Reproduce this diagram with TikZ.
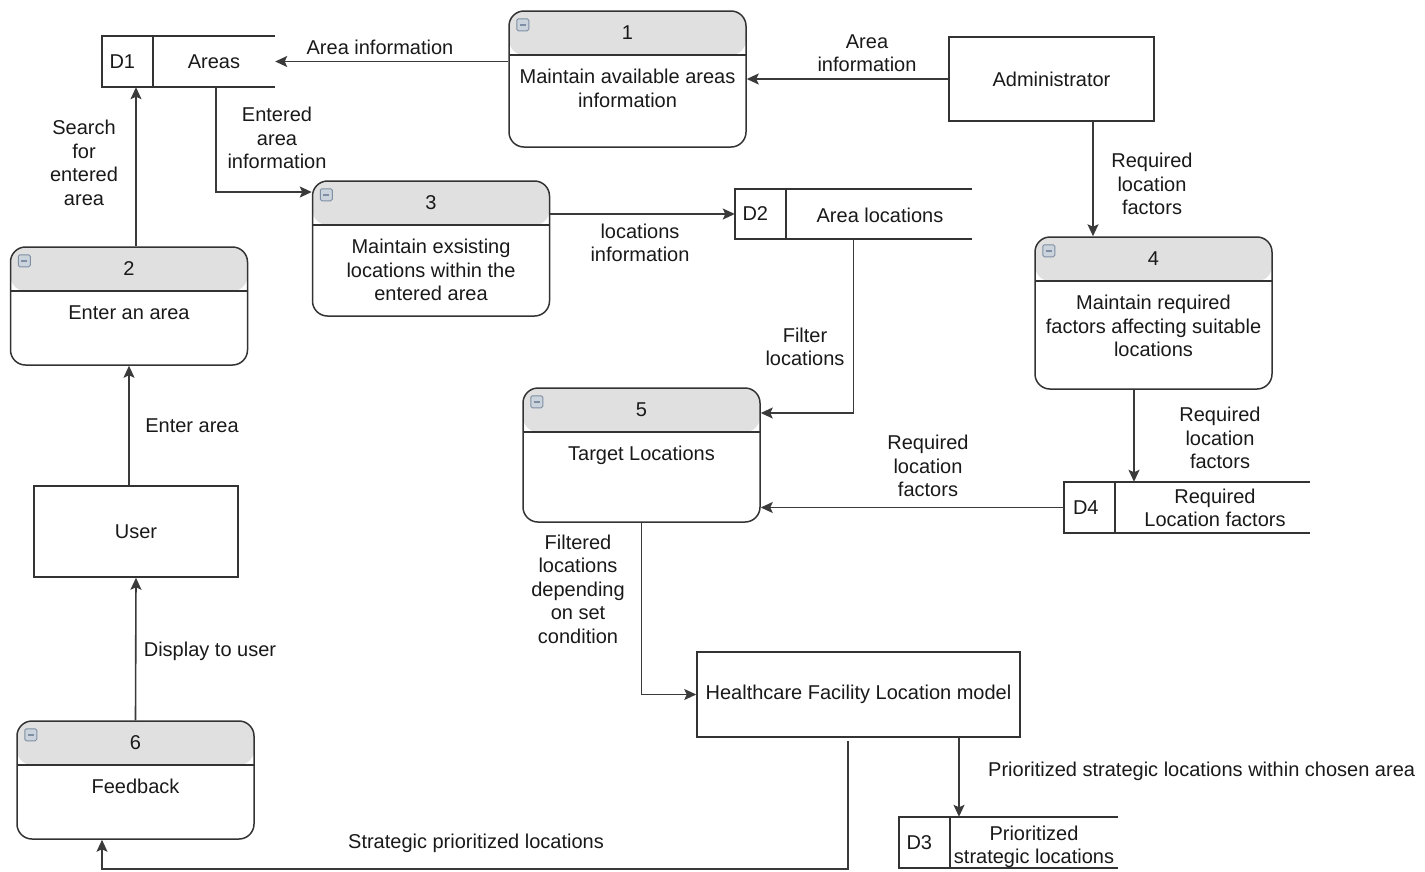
\documentclass[tikz,border=0pt]{standalone}
\usepackage{fontspec}
\setmainfont{Liberation Sans}
\usetikzlibrary{arrows.meta}
\definecolor{linec}{HTML}{333333}
\definecolor{flowc}{HTML}{3A3A3A}
\definecolor{headc}{HTML}{E0E0E0}
\definecolor{iconb}{HTML}{7F8FA3}
\definecolor{iconf}{HTML}{CBD3DD}
\begin{document}
\begin{tikzpicture}[x=1pt,y=-1pt,
  every node/.style={font=\fontsize{20}{23.5}\selectfont, text=black!90, inner sep=0pt, align=center},
  flow/.style={draw=flowc, line width=1.6pt, -{Stealth[length=12pt,width=11pt,inset=2.5pt]}},
  proc/.style={draw=linec, line width=1.5pt, rounded corners=15pt, minimum width=237pt, minimum height=#1,
    path picture={
      \fill[headc] (path picture bounding box.north west) rectangle ([yshift=-44pt]path picture bounding box.north east);
      \draw[linec, line width=1.5pt] ([yshift=-44pt]path picture bounding box.north west) -- ([yshift=-44pt]path picture bounding box.north east);
    }},
  icon/.style={draw=iconb, fill=iconf, line width=1pt, rounded corners=1.5pt, minimum size=12pt,
    path picture={\draw[iconb, line width=1.5pt] ([xshift=3pt]path picture bounding box.west) -- ([xshift=-3pt]path picture bounding box.east);}},
  entity/.style={draw=linec, line width=1.5pt},
  storebox/.style={minimum height=51pt},
  storeline/.style={draw=linec, line width=1.5pt},
]
\useasboundingbox (0,0) rectangle (1425,871);

% ---------- processes ----------
\node[proc=136pt] (p1) at (627.5,79) {};
\node[icon] (p1ico) at ([xshift=14.5pt,yshift=-14.5pt]p1.north west) {};
\node (p1num) at ([yshift=-22pt]p1.north) {1};
\node[anchor=north] (p1txt) at ([yshift=-59pt]p1.north) {Maintain available areas\\information};

\node[proc=135pt] (p3) at (431,248.5) {};
\node[icon] (p3ico) at ([xshift=14.5pt,yshift=-14.5pt]p3.north west) {};
\node (p3num) at ([yshift=-22pt]p3.north) {3};
\node[anchor=north] (p3txt) at ([yshift=-59pt]p3.north) {Maintain exsisting\\locations within the\\entered area};

\node[proc=118pt] (p2) at (129,306) {};
\node[icon] (p2ico) at ([xshift=14.5pt,yshift=-14.5pt]p2.north west) {};
\node (p2num) at ([yshift=-22pt]p2.north) {2};
\node[anchor=north] (p2txt) at ([yshift=-59pt]p2.north) {Enter an area};

\node[proc=152pt] (p4) at (1153.5,313) {};
\node[icon] (p4ico) at ([xshift=14.5pt,yshift=-14.5pt]p4.north west) {};
\node (p4num) at ([yshift=-22pt]p4.north) {4};
\node[anchor=north] (p4txt) at ([yshift=-59pt]p4.north) {Maintain required\\factors affecting suitable\\locations};

\node[proc=134pt] (p5) at (641.5,455) {};
\node[icon] (p5ico) at ([xshift=14.5pt,yshift=-14.5pt]p5.north west) {};
\node (p5num) at ([yshift=-22pt]p5.north) {5};
\node[anchor=north] (p5txt) at ([yshift=-59pt]p5.north) {Target Locations};

\node[proc=118pt] (p6) at (135.5,780) {};
\node[icon] (p6ico) at ([xshift=14.5pt,yshift=-14.5pt]p6.north west) {};
\node (p6num) at ([yshift=-22pt]p6.north) {6};
\node[anchor=north] (p6txt) at ([yshift=-59pt]p6.north) {Feedback};

% ---------- entities ----------
\node[entity, minimum width=205pt, minimum height=84pt] (adm) at (1051.5,79) {Administrator};
\node[entity, minimum width=204pt, minimum height=91pt] (user) at (136,531.5) {User};
\node[entity, minimum width=323pt, minimum height=85pt] (hfl) at (858.5,694.5) {Healthcare Facility Location model};

% ---------- data stores ----------
\node[storebox, minimum width=173pt] (d1) at (188.5,61.5) {};
\draw[storeline] (d1.north east) -- (d1.north west) -- (d1.south west) -- (d1.south east);
\draw[storeline] ([xshift=51pt]d1.north west) -- ([xshift=51pt]d1.south west);
\node (d1id) at ([xshift=20.5pt]d1.west) {D1};
\node (d1n) at (214,62) {Areas};

\node[storebox, minimum width=237pt, minimum height=50pt] (d2) at (853.5,214) {};
\draw[storeline] (d2.north east) -- (d2.north west) -- (d2.south west) -- (d2.south east);
\draw[storeline] ([xshift=51pt]d2.north west) -- ([xshift=51pt]d2.south west);
\node (d2id) at ([xshift=20.5pt]d2.west) {D2};
\node (d2n) at (880,215) {Area locations};

\node[storebox, minimum width=246pt] (d4) at (1187,507.5) {};
\draw[storeline] (d4.north east) -- (d4.north west) -- (d4.south west) -- (d4.south east);
\draw[storeline] ([xshift=51pt]d4.north west) -- ([xshift=51pt]d4.south west);
\node (d4id) at ([xshift=22pt]d4.west) {D4};
\node (d4n) at (1215,508) {Required\\Location factors};

\node[storebox, minimum width=219pt] (d3) at (1008.5,842.5) {};
\draw[storeline] (d3.north east) -- (d3.north west) -- (d3.south west) -- (d3.south east);
\draw[storeline] ([xshift=51pt]d3.north west) -- ([xshift=51pt]d3.south west);
\node (d3id) at ([xshift=20.5pt]d3.west) {D3};
\node (d3n) at (1034,847) {Prioritized\\strategic locations};

% ---------- connectors ----------
\draw[flow] (p1.west |- d1.east) -- (d1.east);
\node (l1) at (380,47) {Area information};

\draw[flow] (adm.west) -- (adm.west -| p1.east);
\node (l2) at (867,53) {Area\\information};

\coordinate (a3) at ([xshift=41.5pt]adm.south);
\draw[flow] (a3) -- (a3 |- p4.north);
\node (l3) at (1152,184) {Required\\location\\factors};

\coordinate (a4) at ([xshift=-19.5pt]p4.south);
\draw[flow] (a4) -- (a4 |- d4.north);
\node (l4) at (1220,438) {Required\\location\\factors};

\draw[flow] (d4.west) -- (d4.west -| p5.east);
\node (l5) at (928,466) {Required\\location\\factors};

\coordinate (a6) at ([yshift=42pt]p5.east);
\draw[flow] (d2.south) |- (a6);
\node (l6) at (805,347) {Filter\\locations};

\draw[flow] (d2.west -| p3.east) -- (d2.west);
\node (l7) at (640,243) {locations\\information};

\coordinate (a8s) at ([xshift=27.5pt]d1.south);
\coordinate (a8e) at ([yshift=56.5pt]p3.west);
\draw[flow] (a8s) |- (a8e);
\node (l8) at (277,138) {Entered\\area\\information};

\coordinate (a9) at ([xshift=7pt]p2.north);
\draw[flow] (a9) -- (a9 |- d1.south);
\node (l9) at (84,163) {Search\\for\\entered\\area};

\draw[flow] (p2.south |- user.north) -- (p2.south);
\node (l10) at (192,426) {Enter area};

\draw[flow] (p6.north) -- (user.south);
\node (l11) at (210,651) {Display to user};

\draw[flow] (p5.south) |- (hfl.west);
\node (l12) at (578,589) {Filtered\\locations\\depending\\on set\\condition};

\coordinate (a13) at ([xshift=100.5pt]hfl.south);
\draw[flow] (a13) -- (a13 |- d3.north);
\node[anchor=west] (l13) at (988,771) {Prioritized strategic locations within chosen area};

\coordinate (a14) at ([xshift=-10.5pt,yshift=-3pt]hfl.south);
\coordinate (a14t) at ([xshift=-33.5pt]p6.south);
\draw[flow] (a14) -- ++(0,128.5) -| (a14t);
\node (l14) at (476,843) {Strategic prioritized locations};
\end{tikzpicture}
\end{document}
